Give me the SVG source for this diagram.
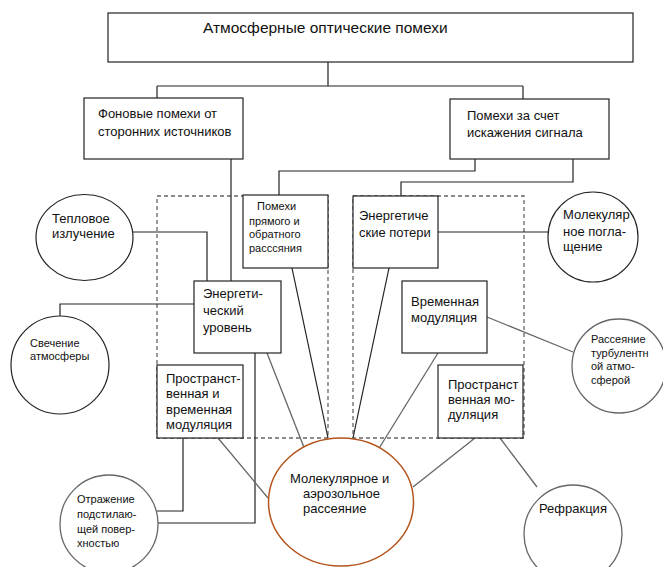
<svg xmlns="http://www.w3.org/2000/svg" width="663" height="567" viewBox="0 0 663 567">
<style>
.box{fill:#fff;stroke:#222;stroke-width:1.2}
.circ{fill:#fff;stroke:#222;stroke-width:1.2}
.circg{fill:#fff;stroke:#666;stroke-width:1.3}
.big{fill:#fff;stroke:#b4541c;stroke-width:1.5}
.con{fill:none;stroke:#222;stroke-width:1.2}
.cong{fill:none;stroke:#666;stroke-width:1.3}
.dash{fill:none;stroke:#666;stroke-width:1.3;stroke-dasharray:4 3}
text{font-family:"Liberation Sans",Arial,sans-serif;fill:#111}
.t13{font-size:13px}
.t12{font-size:12px}
.t11{font-size:11px}
</style>
<rect width="663" height="567" fill="#fff"/>
<g id="dashed">
<rect class="dash" x="157" y="196" width="171" height="242"/>
<rect class="dash" x="353" y="196" width="171" height="242"/>
</g>
<g id="connectors">
<path class="con" d="M328,62V86M157,86H523M157,86V98M523,86V99"/>
<path class="con" d="M231,159V281"/>
<path class="con" d="M475,159V171H279V195"/>
<path class="con" d="M573,159V182H401V196"/>
<path class="con" d="M133,232H207V281"/>
<path class="con" d="M194,304H60V316"/>
<path class="con" d="M438,232H548"/>
<path class="con" d="M255,353V523H157"/>
<path class="con" d="M183,438V511H157"/>
<path class="cong" d="M218,438L268,498"/>
<path class="cong" d="M267,353L305,450"/>
<path class="con" d="M292,268L328,438"/>
<path class="con" d="M389,268L353,438"/>
<path class="cong" d="M438,353L378,450"/>
<path class="cong" d="M487,317L573,352"/>
<path class="cong" d="M475,438L413,487"/>
<path class="cong" d="M500,438L537,487"/>
</g>
<g id="title">
<rect class="box" x="108" y="13" width="525" height="49"/>
<text x="203" y="33" font-size="15.5">Атмосферные оптические помехи</text>
</g>
<g id="background">
<rect class="box" x="84" y="98" width="159" height="61"/>
<text class="t13" x="98" y="118">Фоновые помехи от</text>
<text class="t13" x="98" y="136">сторонних источников</text>
</g>
<g id="distortion">
<rect class="box" x="450" y="99" width="159" height="60"/>
<text class="t13" x="467" y="120">Помехи за счет</text>
<text class="t13" x="467" y="137">искажения сигнала</text>
</g>
<g id="direct-back">
<rect class="box" x="243" y="195" width="85" height="73"/>
<text class="t11" x="257" y="210">Помехи</text>
<text class="t11" x="249" y="225">прямого и</text>
<text class="t11" x="249" y="238">обратного</text>
<text class="t11" x="249" y="252">расссяния</text>
</g>
<g id="energy-loss">
<rect class="box" x="353" y="196" width="85" height="72"/>
<text class="t13" x="359" y="220">Энергетиче</text>
<text class="t13" x="359" y="237">ские потери</text>
</g>
<g id="energy-level">
<rect class="box" x="194" y="281" width="87" height="72"/>
<text class="t13" x="203" y="298">Энергети-</text>
<text class="t13" x="203" y="315">ческий</text>
<text class="t13" x="203" y="332">уровень</text>
</g>
<g id="time-mod">
<rect class="box" x="402" y="281" width="85" height="72"/>
<text class="t13" x="411" y="306">Временная</text>
<text class="t13" x="411" y="322">модуляция</text>
</g>
<g id="space-time-mod">
<rect class="box" x="157" y="365" width="86" height="73"/>
<text class="t13" x="166" y="383">Пространст-</text>
<text class="t13" x="166" y="398">венная и</text>
<text class="t13" x="166" y="414">временная</text>
<text class="t13" x="166" y="429">модуляция</text>
</g>
<g id="space-mod">
<rect class="box" x="438" y="365" width="85" height="73"/>
<text class="t13" x="448" y="389">Пространст</text>
<text class="t13" x="448" y="404">венная мо-</text>
<text class="t13" x="448" y="419">дуляция</text>
</g>
<g id="thermal">
<ellipse class="circ" cx="84.5" cy="237.5" rx="48.5" ry="43"/>
<text class="t13" x="52" y="223">Тепловое</text>
<text class="t13" x="52" y="238">излучение</text>
</g>
<g id="glow">
<circle class="circ" cx="60" cy="365" r="49"/>
<text class="t11" x="30" y="347">Свечение</text>
<text class="t11" x="30" y="360">атмосферы</text>
</g>
<g id="mol-absorb">
<circle class="circ" cx="593" cy="237" r="45"/>
<text class="t13" x="563" y="219">Молекуляр</text>
<text class="t13" x="563" y="236">ное погла-</text>
<text class="t13" x="563" y="251">щение</text>
</g>
<g id="turbulent">
<circle class="circg" cx="619" cy="366" r="47"/>
<text class="t11" x="591" y="343">Рассеяние</text>
<text class="t11" x="591" y="357">турбулентн</text>
<text class="t11" x="591" y="370">ой атмо-</text>
<text class="t11" x="591" y="384">сферой</text>
</g>
<g id="reflection">
<circle class="circg" cx="109" cy="524" r="49"/>
<text class="t11" x="77" y="503">Отражение</text>
<text class="t11" x="77" y="518">подстилаю-</text>
<text class="t11" x="77" y="533">щей повер-</text>
<text class="t11" x="77" y="547">хностью</text>
</g>
<g id="scattering">
<ellipse class="big" cx="341" cy="502" rx="72.5" ry="64"/>
<text class="t13" x="290" y="483">Молекулярное и</text>
<text class="t13" x="303" y="498">аэрозольное</text>
<text class="t13" x="303" y="513">рассеяние</text>
</g>
<g id="refraction">
<circle class="circg" cx="573" cy="534" r="49"/>
<text class="t13" x="539" y="513">Рефракция</text>
</g>
</svg>
